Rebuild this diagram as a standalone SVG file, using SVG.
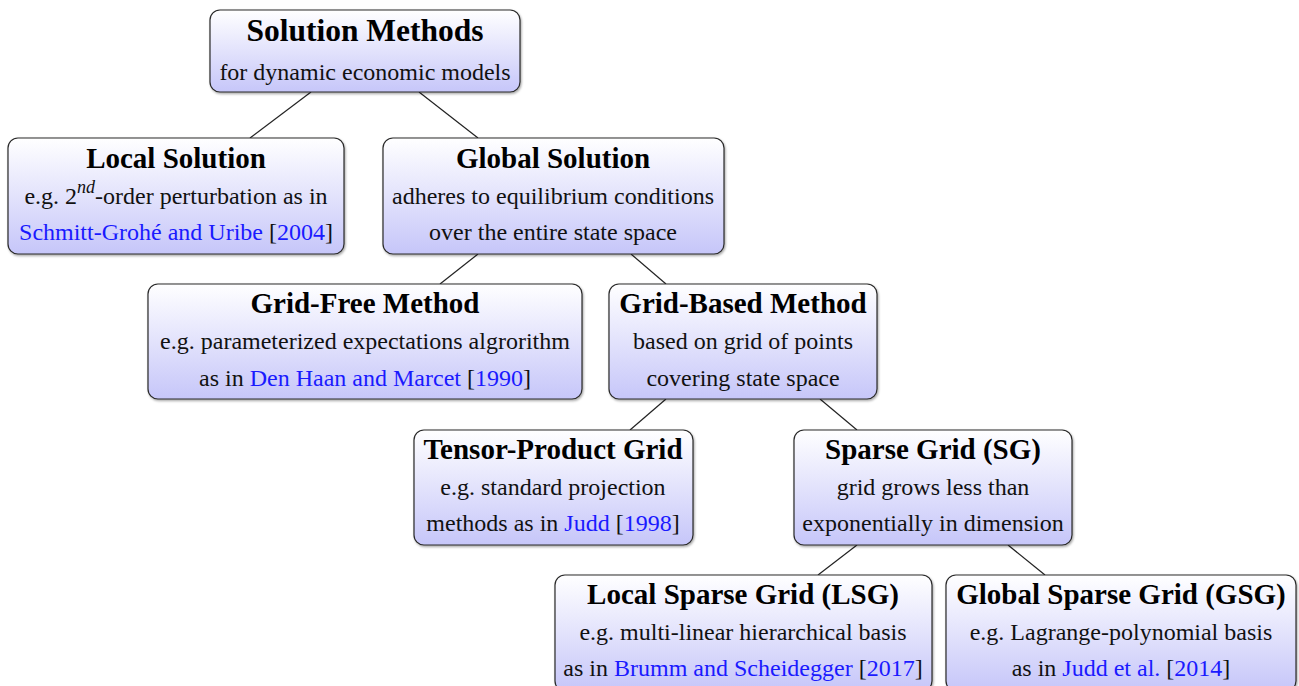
<svg xmlns="http://www.w3.org/2000/svg" width="1299" height="686" viewBox="0 0 1299 686">
  <defs>
    <linearGradient id="boxFill" x1="0" y1="0" x2="0" y2="1">
      <stop offset="0" stop-color="#ffffff"/>
      <stop offset="1" stop-color="#c6c6f9"/>
    </linearGradient>
    <filter id="shadow" x="-5%" y="-5%" width="110%" height="120%">
      <feDropShadow dx="1" dy="1.5" stdDeviation="1" flood-color="#000" flood-opacity="0.35"/>
    </filter>
  </defs>
  <style>
    .box { fill: url(#boxFill); stroke: #2a2a2a; stroke-width: 1.2; filter: url(#shadow); }
    .title { font-weight: bold; font-size: 29px; fill: #000; text-anchor: middle; }
    .root { font-size: 31.5px; }
    .body { font-size: 24px; fill: #111; text-anchor: middle; }
    .ref { fill: #1a1aff; }
    .edge { stroke: #222; stroke-width: 1.2; fill: none; }
  </style>
  <rect width="1299" height="686" fill="#ffffff"/>

  <g id="connectors">
    <line class="edge" x1="311" y1="92" x2="250" y2="138"/>
    <line class="edge" x1="419" y1="92" x2="478" y2="138"/>
    <line class="edge" x1="478" y1="254" x2="440" y2="284"/>
    <line class="edge" x1="631" y1="254" x2="666" y2="284"/>
    <line class="edge" x1="666" y1="399" x2="630" y2="430"/>
    <line class="edge" x1="820" y1="399" x2="857" y2="430"/>
    <line class="edge" x1="857" y1="545" x2="818" y2="575"/>
    <line class="edge" x1="1008" y1="545" x2="1045" y2="575"/>
  </g>

  <g font-family="'Liberation Serif', serif">
    <g id="solution-methods">
      <rect class="box" x="210" y="10" width="310" height="82" rx="10"/>
      <text class="title root" x="365" y="41">Solution Methods</text>
      <text class="body" x="365" y="80">for dynamic economic models</text>
    </g>

    <g id="local-solution">
      <rect class="box" x="8" y="138" width="336" height="116" rx="10"/>
      <text class="title" x="176" y="168">Local Solution</text>
      <text class="body" x="176" y="204">e.g. 2<tspan font-style="italic" font-size="18" dy="-11">nd</tspan><tspan dy="11">-order perturbation as in</tspan></text>
      <text class="body" x="176" y="240"><tspan class="ref">Schmitt-Grohé and Uribe</tspan> [<tspan class="ref">2004</tspan>]</text>
    </g>

    <g id="global-solution">
      <rect class="box" x="383" y="138" width="341" height="116" rx="10"/>
      <text class="title" x="553" y="168">Global Solution</text>
      <text class="body" x="553" y="204">adheres to equilibrium conditions</text>
      <text class="body" x="553" y="240">over the entire state space</text>
    </g>

    <g id="grid-free">
      <rect class="box" x="148" y="284" width="434" height="115" rx="10"/>
      <text class="title" x="365" y="313">Grid-Free Method</text>
      <text class="body" x="365" y="349">e.g. parameterized expectations algrorithm</text>
      <text class="body" x="365" y="386">as in <tspan class="ref">Den Haan and Marcet</tspan> [<tspan class="ref">1990</tspan>]</text>
    </g>

    <g id="grid-based">
      <rect class="box" x="609" y="284" width="268" height="115" rx="10"/>
      <text class="title" x="743" y="313">Grid-Based Method</text>
      <text class="body" x="743" y="349">based on grid of points</text>
      <text class="body" x="743" y="386">covering state space</text>
    </g>

    <g id="tensor-product">
      <rect class="box" x="414" y="430" width="279" height="115" rx="10"/>
      <text class="title" x="553" y="459">Tensor-Product Grid</text>
      <text class="body" x="553" y="495">e.g. standard projection</text>
      <text class="body" x="553" y="531">methods as in <tspan class="ref">Judd</tspan> [<tspan class="ref">1998</tspan>]</text>
    </g>

    <g id="sparse-grid">
      <rect class="box" x="794" y="430" width="278" height="115" rx="10"/>
      <text class="title" x="933" y="459">Sparse Grid (SG)</text>
      <text class="body" x="933" y="495">grid grows less than</text>
      <text class="body" x="933" y="531">exponentially in dimension</text>
    </g>

    <g id="local-sparse-grid">
      <rect class="box" x="555" y="575" width="377" height="116" rx="10"/>
      <text class="title" x="743" y="604">Local Sparse Grid (LSG)</text>
      <text class="body" x="743" y="640">e.g. multi-linear hierarchical basis</text>
      <text class="body" x="743" y="676">as in <tspan class="ref">Brumm and Scheidegger</tspan> [<tspan class="ref">2017</tspan>]</text>
    </g>

    <g id="global-sparse-grid">
      <rect class="box" x="946" y="575" width="350" height="116" rx="10"/>
      <text class="title" x="1121" y="604">Global Sparse Grid (GSG)</text>
      <text class="body" x="1121" y="640">e.g. Lagrange-polynomial basis</text>
      <text class="body" x="1121" y="676">as in <tspan class="ref">Judd et al.</tspan> [<tspan class="ref">2014</tspan>]</text>
    </g>
  </g>
</svg>
